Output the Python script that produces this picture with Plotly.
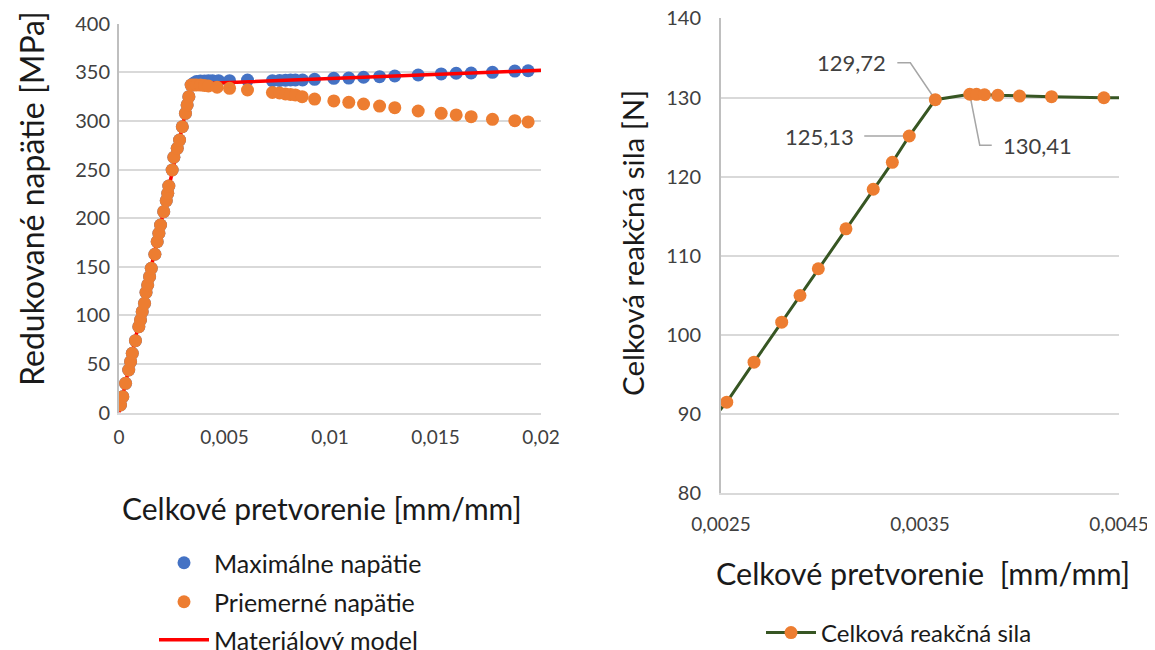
import plotly.graph_objects as go

# ---------------- Left chart data ----------------
strain_avg = [0.00007, 0.00018, 0.00031, 0.00046, 0.00055, 0.00063, 0.00078, 0.00094, 0.00102, 0.0011,
              0.00121, 0.00128, 0.00136, 0.00145, 0.00153, 0.0017, 0.00181, 0.00189, 0.00197, 0.00212,
              0.00224, 0.00231, 0.00236, 0.00252, 0.0026, 0.00276, 0.00287, 0.003, 0.00315, 0.00323,
              0.00331, 0.00342, 0.00355, 0.00367, 0.00386, 0.00405, 0.00424, 0.00465, 0.00524, 0.00609,
              0.00727, 0.00761, 0.00789, 0.00813, 0.00836, 0.00868, 0.00927, 0.01018, 0.01089, 0.01159,
              0.01235, 0.01307, 0.01418, 0.01527, 0.01598, 0.01669, 0.0177, 0.01876, 0.01939]
stress_avg = [7.7, 16.3, 30.0, 43.7, 52.3, 60.9, 73.9, 88.3, 95.2, 103.7,
              112.3, 123.5, 131.2, 139.7, 148.3, 162.8, 175.7, 184.4, 192.9, 206.6,
              217.9, 225.5, 233.0, 249.5, 262.6, 271.8, 280.3, 294.0, 307.8, 316.4,
              324.9, 336.9, 337.0, 337.0, 336.9, 336.4, 335.9, 334.6, 333.5, 331.8,
              329.2, 328.7, 327.7, 327.2, 326.7, 324.9, 322.5, 320.5, 319.1, 317.4,
              315.3, 313.6, 310.2, 307.8, 306.1, 304.3, 301.6, 300.2, 298.9]

strain_max = [0.00007, 0.00018, 0.00031, 0.00046, 0.00055, 0.00063, 0.00078, 0.00094, 0.00102, 0.0011,
              0.00121, 0.00128, 0.00136, 0.00145, 0.00153, 0.0017, 0.00181, 0.00189, 0.00197, 0.00212,
              0.00224, 0.00231, 0.00236, 0.00252, 0.0026, 0.00276, 0.00287, 0.003, 0.00315, 0.00323,
              0.00331, 0.00342, 0.00355, 0.00367, 0.00386, 0.00405, 0.00424, 0.00443, 0.00472, 0.00524,
              0.00609, 0.00727, 0.00761, 0.00789, 0.00813, 0.00836, 0.0087, 0.00927, 0.01018, 0.01089,
              0.01159, 0.01235, 0.01307, 0.01418, 0.01527, 0.01598, 0.01669, 0.0177, 0.01876, 0.01939]
stress_max = [7.7, 16.3, 30.0, 43.7, 52.3, 60.9, 73.9, 88.3, 95.2, 103.7,
              112.3, 123.5, 131.2, 139.7, 148.3, 162.8, 175.7, 184.4, 192.9, 206.6,
              217.9, 225.5, 233.0, 249.5, 262.6, 271.8, 280.3, 294.0, 307.8, 316.4,
              324.9, 336.9, 339.0, 340.5, 341.0, 341.0, 341.4, 341.4, 341.4, 341.4,
              342.1, 341.4, 341.6, 341.8, 342.1, 342.1, 342.1, 342.8, 343.8, 344.1,
              344.9, 345.5, 346.2, 347.2, 348.3, 349.0, 349.3, 350.0, 351.3, 351.6]

strain_model = [0.0, 0.00345, 0.02]
stress_model = [0.0, 338.0, 352.0]

# ---------------- Right chart data ----------------
strain_r = [0.0024, 0.002529, 0.002666, 0.002805, 0.002897, 0.002989, 0.003128, 0.003265, 0.003361,
            0.003446, 0.003577, 0.00375, 0.003784, 0.003824, 0.003891, 0.004, 0.004161, 0.004424, 0.00475]
force_r = [87.7, 91.48, 96.54, 101.6, 104.97, 108.35, 113.4, 118.4, 121.8,
           125.13, 129.72, 130.41, 130.4, 130.35, 130.27, 130.18, 130.1, 129.97, 129.9]
labelled_idx = [10, 9, 11]

BLUE = "#4472C4"
ORANGE = "#ED7D31"
RED = "#FF0000"
GREEN = "#375623"
GRID = "#D9D9D9"
AXL = "#BFBFBF"
FONT = "Lato"
TICK_C = "#404040"
TITLE_C = "#1a1a1a"

W, H = 1155, 650
OFF = 8  # page body margin in the browser

fig = go.Figure()

fig.add_trace(go.Scatter(x=strain_max, y=stress_max, mode="markers", name="Maximálne napätie",
                         marker=dict(color=BLUE, size=13), xaxis="x", yaxis="y", legend="legend"))
fig.add_trace(go.Scatter(x=strain_model, y=stress_model, mode="lines", name="Materiálový model",
                         line=dict(color=RED, width=3.5), xaxis="x", yaxis="y", legend="legend4"))
fig.add_trace(go.Scatter(x=strain_avg, y=stress_avg, mode="markers", name="Priemerné napätie",
                         marker=dict(color=ORANGE, size=13), xaxis="x", yaxis="y", legend="legend3"))
fig.add_trace(go.Scatter(x=strain_r, y=force_r, mode="lines+markers", name="Celková reakčná sila",
                         line=dict(color=GREEN, width=3), marker=dict(color=ORANGE, size=13),
                         xaxis="x2", yaxis="y2", legend="legend2"))

def px_x(p):
    return (p - OFF) / W

def px_y(p):
    return 1 - (p - OFF) / H

def axis_common(fs):
    return dict(zeroline=False, automargin=False, ticklabeloverflow="allow",
                tickfont=dict(family=FONT, size=fs, color=TICK_C), ticks="")

def leg(xp, yp, size):
    return dict(x=px_x(xp), y=px_y(yp), xanchor="left", yanchor="middle", itemwidth=50,
                font=dict(family=FONT, size=size, color=TITLE_C), bgcolor="rgba(0,0,0,0)")

fig.update_layout(
    width=W, height=H,
    margin=dict(l=0, r=0, t=0, b=0, autoexpand=False),
    paper_bgcolor="white", plot_bgcolor="white",
    separators=", ",
    showlegend=True,
    font=dict(family=FONT, color=TITLE_C),
    xaxis=dict(domain=[px_x(119), px_x(541)], range=[0, 0.02], dtick=0.005, tick0=0,
               anchor="y", showgrid=False, showline=True, linecolor=GRID, linewidth=1.5,
               ticklabelstandoff=7, **axis_common(19)),
    yaxis=dict(domain=[px_y(412.5), px_y(23.7)], range=[0, 400], dtick=50,
               anchor="x", showgrid=True, gridcolor=GRID, gridwidth=1.5,
               showline=True, linecolor=AXL, linewidth=2, ticklabelstandoff=3, **axis_common(20)),
    xaxis2=dict(domain=[px_x(721), px_x(1119)], range=[0.0025, 0.0045], dtick=0.001, tick0=0.0025,
                anchor="y2", showgrid=False, showline=True, linecolor=GRID, linewidth=1.5,
                ticklabelstandoff=13, **axis_common(19)),
    yaxis2=dict(domain=[px_y(493), px_y(18.4)], range=[80, 140], dtick=10,
                anchor="x2", showgrid=True, gridcolor=GRID, gridwidth=1.5,
                showline=True, linecolor=AXL, linewidth=2, ticklabelstandoff=14, **axis_common(20)),
    legend=leg(154, 563, 25),
    legend3=leg(154, 602, 25),
    legend4=leg(154, 640, 25),
    legend2=leg(761, 633, 24),
)

annotations = [
    dict(text="Redukované napätie [MPa]", x=px_x(31), y=px_y(199), xref="paper", yref="paper",
         textangle=-90, showarrow=False, font=dict(family=FONT, size=32, color=TITLE_C),
         xanchor="center", yanchor="middle"),
    dict(text="Celkové pretvorenie [mm/mm]", x=px_x(322), y=px_y(508), xref="paper", yref="paper",
         showarrow=False, font=dict(family=FONT, size=30, color=TITLE_C),
         xanchor="center", yanchor="middle"),
    dict(text="Celková reakčná sila [N]", x=px_x(632), y=px_y(243), xref="paper", yref="paper",
         textangle=-90, showarrow=False, font=dict(family=FONT, size=29.5, color=TITLE_C),
         xanchor="center", yanchor="middle"),
    dict(text="Celkové pretvorenie  [mm/mm]", x=px_x(923), y=px_y(573), xref="paper", yref="paper",
         showarrow=False, font=dict(family=FONT, size=30.5, color=TITLE_C),
         xanchor="center", yanchor="middle"),
]

# data labels with leader lines (offsets in pixels from the labelled point)
label_offsets = {
    10: dict(path="M0,0 L-25,37 L-38,37", xshift=-47, yshift=37, xanchor="right"),
    9: dict(path="M-5,0 L-45,0", xshift=-53, yshift=0, xanchor="right"),
    11: dict(path="M0,0 L10,-51 L22,-51", xshift=31, yshift=-51, xanchor="left"),
}
shapes = []
for i in labelled_idx:
    o = label_offsets[i]
    txt = f"{force_r[i]:.2f}".replace(".", ",")
    annotations.append(dict(text=txt, x=strain_r[i], y=force_r[i], xref="x2", yref="y2",
                            showarrow=False, xshift=o["xshift"], yshift=o["yshift"],
                            xanchor=o["xanchor"], yanchor="middle",
                            font=dict(family=FONT, size=22, color="#404040")))
    shapes.append(dict(type="path", xref="x2", yref="y2", xsizemode="pixel", ysizemode="pixel",
                       xanchor=strain_r[i], yanchor=force_r[i], path=o["path"],
                       line=dict(color="#A6A6A6", width=1.5), layer="below"))

fig.update_layout(annotations=annotations, shapes=shapes)

fig.write_html("out.html")
